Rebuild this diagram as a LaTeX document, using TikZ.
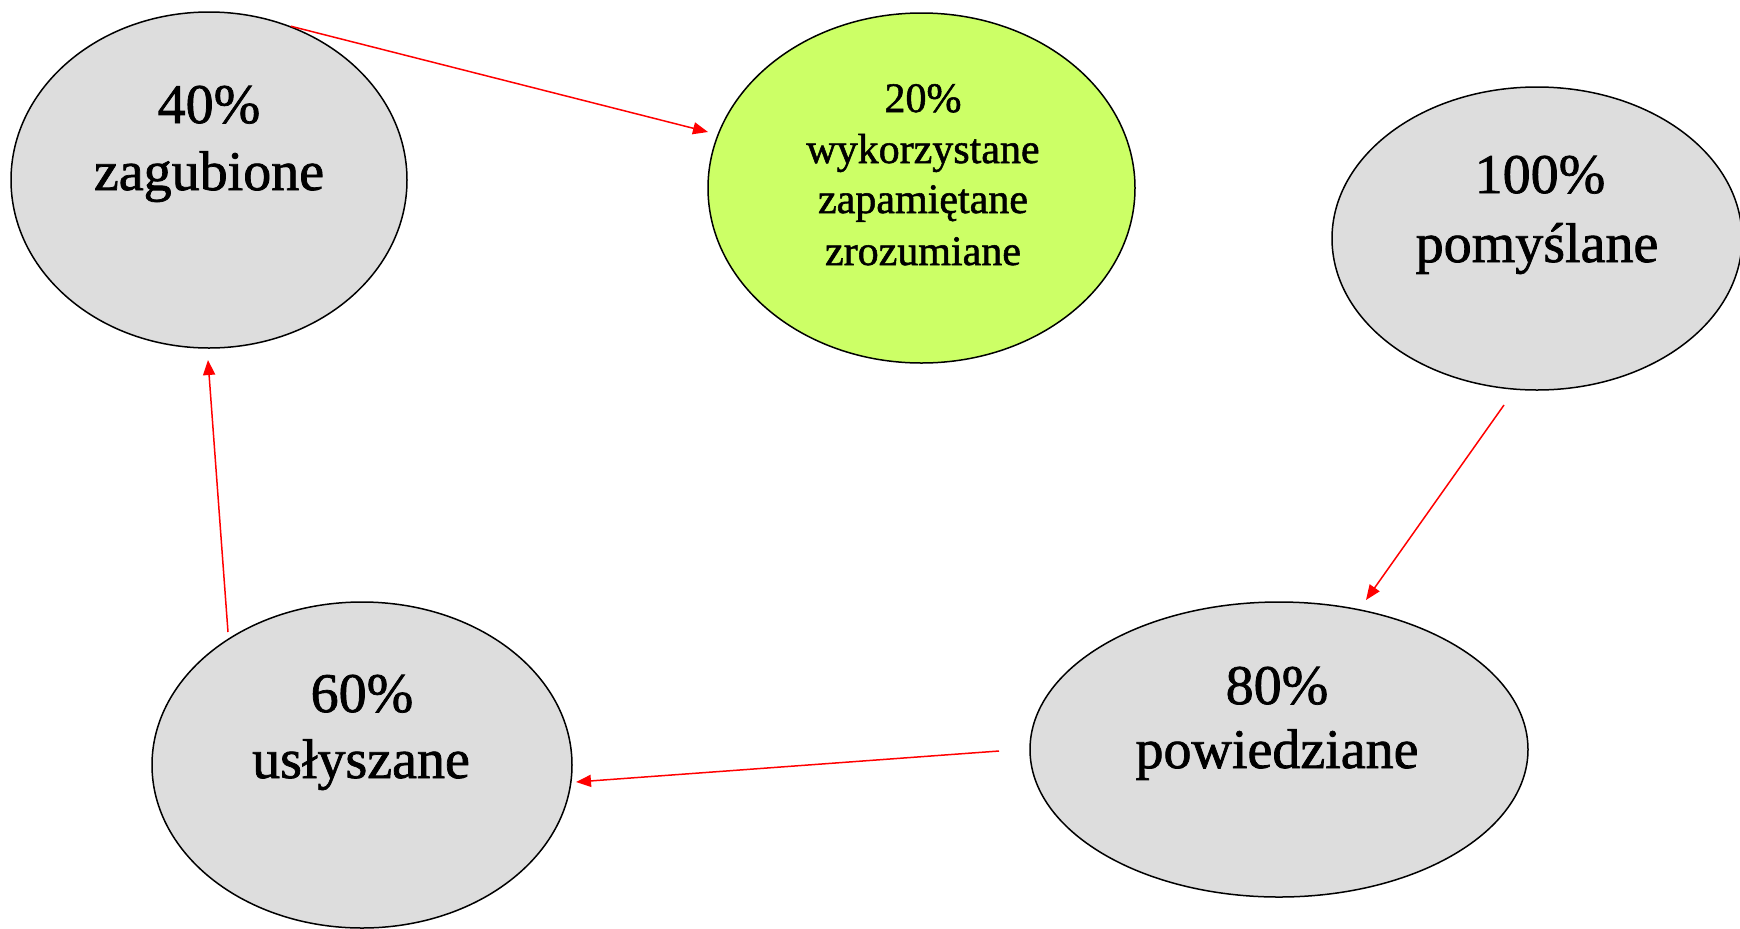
\documentclass[tikz,border=0pt]{standalone}
\usepackage{fontspec}
\setmainfont{Liberation Serif}
\newfontfamily\heavyfont{Liberation Serif}[FakeBold=1.3]
\usetikzlibrary{arrows.meta,shapes.geometric}
\definecolor{bubgray}{RGB}{221,221,221}
\definecolor{bubgreen}{RGB}{204,255,102}
\begin{document}
\begin{tikzpicture}[x=0.5pt,y=-0.5pt,
  bub/.style={ellipse, draw=black, line width=0.75pt, fill=bubgray, inner sep=0pt},
  bigtxt/.style={font=\heavyfont\fontsize{28}{32}\selectfont, anchor=base, inner sep=0pt},
  smalltxt/.style={font=\heavyfont\fontsize{21}{25}\selectfont, anchor=base, inner sep=0pt},
  arr/.style={draw=red, line width=0.75pt, -{Triangle[length=7.5pt,width=6pt]}}]
\useasboundingbox (0,0) rectangle (1740,928);

% ellipses
\node[bub, minimum width=198pt, minimum height=168pt] (n40) at (209,180) {};
\node[bub, fill=bubgreen, minimum width=213.5pt, minimum height=175pt] (n20) at (921.5,188) {};
\node[bub, minimum width=205pt, minimum height=151.5pt] (n100) at (1537,238.5) {};
\node[bub, minimum width=249pt, minimum height=147.5pt] (n80) at (1279,749.5) {};
\node[bub, minimum width=210pt, minimum height=163pt] (n60) at (362,765) {};

% texts
\node[bigtxt] (t40a) at (209,123) {40\%};
\node[bigtxt] (t40b) at (209,190) {zagubione};

\node[smalltxt] (t20a) at (923,112) {20\%};
\node[smalltxt] (t20b) at (923,163) {wykorzystane};
\node[smalltxt] (t20c) at (923,213) {zapamiętane};
\node[smalltxt] (t20d) at (923,265) {zrozumiane};

\node[bigtxt] (t100a) at (1540,193) {100\%};
\node[bigtxt] (t100b) at (1537,262) {pomyślane};

\node[bigtxt] (t80a) at (1277,704) {80\%};
\node[bigtxt] (t80b) at (1277,768) {powiedziane};

\node[bigtxt] (t60a) at (362,712) {60\%};
\node[bigtxt] (t60b) at (361,778) {usłyszane};

% free ends of connectors
\coordinate (a1e) at (708,132);
\coordinate (a2s) at (1504,405);
\coordinate (a2e) at (1366,600);
\coordinate (a3s) at (999,751);
\coordinate (a3e) at (576,782);
\coordinate (a4s) at (228,632);
\coordinate (a4e) at (208,360);

% connectors
\draw[arr] (n40.62.7) -- (a1e);
\draw[arr] (a2s) -- (a2e);
\draw[arr] (a3s) -- (a3e);
\draw[arr] (a4s) -- (a4e);
\end{tikzpicture}
\end{document}
